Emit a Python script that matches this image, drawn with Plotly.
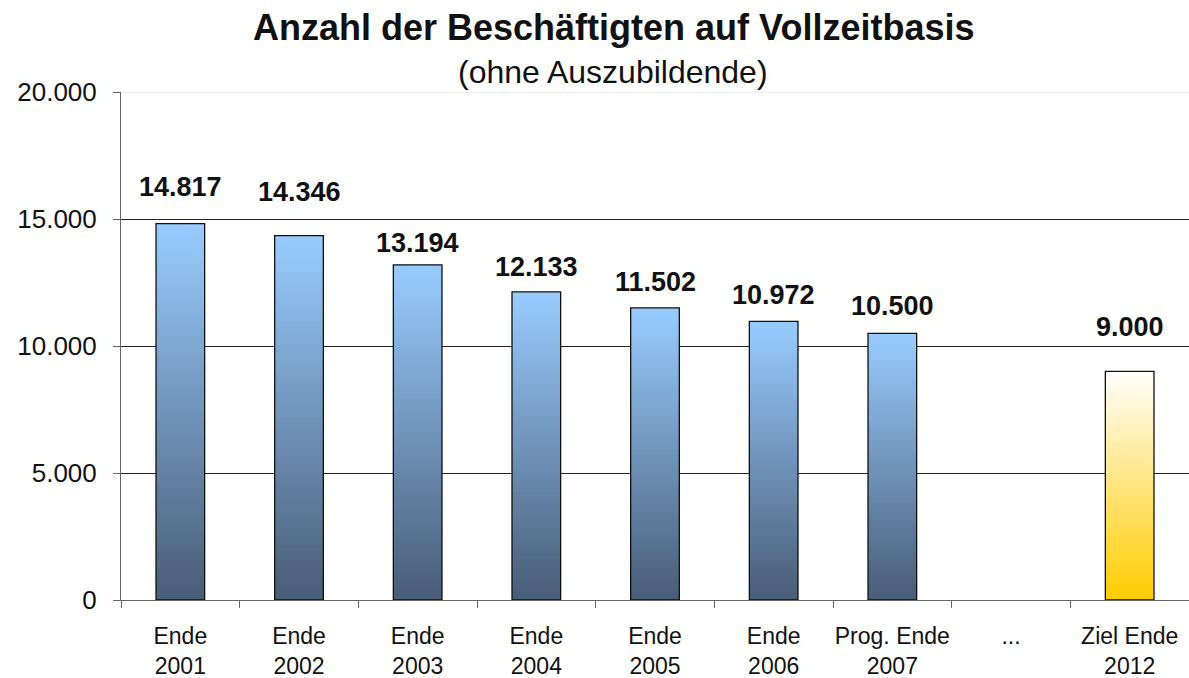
import plotly.graph_objects as go

categories = ["Ende<br>2001", "Ende<br>2002", "Ende<br>2003", "Ende<br>2004", "Ende<br>2005",
              "Ende<br>2006", "Prog. Ende<br>2007", "...", "Ziel Ende<br>2012"]
values = [14817, 14346, 13194, 12133, 11502, 10972, 10500, None, 9000]
is_target = [False, False, False, False, False, False, False, False, True]
y_ticks = [0, 5000, 10000, 15000, 20000]
y_tick_labels = ["0", "5.000", "10.000", "15.000", "20.000"]
title_text = "Anzahl der Beschäftigten auf Vollzeitbasis"
subtitle_text = "(ohne Auszubildende)"

# styling (not data)
label_shift = [37, 44, 22, 25, 26, 26, 27, 0, 44]
blue_top, blue_bottom = (153, 204, 255), (72, 92, 118)
gold_top, gold_bottom = (255, 254, 252), (255, 204, 0)
N = 80
BAR_W = 0.41
FONT = "Liberation Sans, Arial, sans-serif"


def mix(c_bot, c_top, f):
    return "rgb(%d,%d,%d)" % tuple(round(b + (t - b) * f) for b, t in zip(c_bot, c_top))


def fmt(v):
    return f"{v:,}".replace(",", ".")


fig = go.Figure()
for i in range(N):
    f = (i + 0.5) / N
    seg_h = [None if v is None else v / N * (1.6 if i < N - 1 else 1.0) for v in values]
    seg_base = [None if v is None else v * i / N for v in values]
    colors = [mix(gold_bottom, gold_top, f) if t else mix(blue_bottom, blue_top, f) for t in is_target]
    fig.add_trace(go.Bar(x=categories, y=seg_h, base=seg_base, width=BAR_W,
                         marker=dict(color=colors, line=dict(width=0)),
                         hoverinfo="skip", showlegend=False))

fig.add_trace(go.Bar(x=categories, y=values, width=BAR_W,
                     marker=dict(color="rgba(0,0,0,0)", line=dict(color="#111111", width=1.3)),
                     showlegend=False, hovertemplate="%{y}<extra></extra>"))

for c, v, s in zip(categories, values, label_shift):
    if v is None:
        continue
    fig.add_annotation(x=c, y=v, text="<b>" + fmt(v) + "</b>", showarrow=False,
                       yanchor="middle", yshift=s,
                       font=dict(family=FONT, size=27, color="#111111"))

fig.add_annotation(xref="paper", yref="paper", x=0.4607, y=1.0, yshift=65,
                   xanchor="center", yanchor="middle", showarrow=False,
                   text="<b>" + title_text + "</b>",
                   font=dict(family=FONT, size=36, color="#111111"))
fig.add_annotation(xref="paper", yref="paper", x=0.4607, y=1.0, yshift=20,
                   xanchor="center", yanchor="middle", showarrow=False,
                   text=subtitle_text,
                   font=dict(family=FONT, size=32, color="#111111"))

fig.update_layout(
    width=1189, height=678,
    barmode="overlay",
    plot_bgcolor="white", paper_bgcolor="white",
    margin=dict(l=121, r=0, t=92, b=78, autoexpand=False),
    font=dict(family=FONT, color="#111111"),
    showlegend=False,
)
fig.update_xaxes(type="category", tickson="boundaries", ticks="outside", ticklen=7,
                 tickcolor="#666666", showline=True, linecolor="#666666", linewidth=1,
                 showgrid=False, automargin=False, tickangle=0, ticklabelstandoff=15,
                 tickfont=dict(size=23, color="#111111"))
fig.update_yaxes(range=[0, 20000], tickvals=y_ticks, ticktext=y_tick_labels,
                 ticks="outside", ticklen=7, tickcolor="#666666",
                 showline=True, linecolor="#666666", linewidth=1,
                 showgrid=True, gridcolor="#222222", gridwidth=1, automargin=False,
                 ticklabelstandoff=11,
                 zeroline=False, tickfont=dict(size=26, color="#111111"))
fig.add_hline(y=20000, line=dict(color="#dddddd", width=1))

fig.write_html("out.html", config={"displayModeBar": False},
               post_script="document.body.style.margin='0';")
